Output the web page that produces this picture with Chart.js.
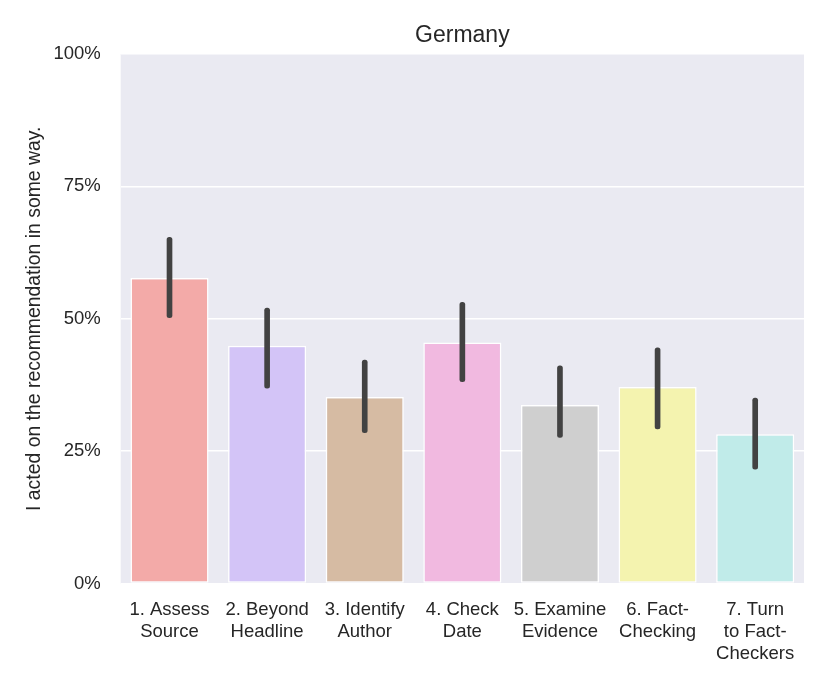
<!DOCTYPE html>
<html>
<head>
<meta charset="utf-8">
<script src="https://cdn.jsdelivr.net/npm/chart.js@4"></script>
<style>
  body { margin: 0; background: #fff; }
  #wrap { width: 830px; height: 692px; }
</style>
</head>
<body>
<div id="wrap"><canvas id="chart"></canvas></div>
<script>
// categories (multi-line tick labels)
const categories = [
    ["1. Assess", "Source"],
    ["2. Beyond", "Headline"],
    ["3. Identify", "Author"],
    ["4. Check", "Date"],
    ["5. Examine", "Evidence"],
    ["6. Fact-", "Checking"],
    ["7. Turn", "to Fact-", "Checkers"]
];
// share who acted on the recommendation (%)
const actedShare = [57.7, 44.9, 35.2, 45.5, 33.7, 37.1, 28.2];
// confidence interval bounds (%)
const ciLow = [50.2, 36.9, 28.5, 38.1, 27.6, 29.2, 21.6];
const ciHigh = [65.4, 52.0, 42.2, 53.1, 41.1, 44.5, 35.0];
const yTicks = [0, 25, 50, 75, 100];
const chartTitle = "Germany";

const barColors = ["#F3AAA8", "#D3C4F7", "#D6BBA3", "#F1B9E0", "#CFCFCF", "#F4F3AF", "#C0EBE9"];
const font = "'Liberation Sans', Arial, sans-serif";

// grey plot background + title centred over the plot area
const plotBg = {
    id: "plotBg",
    beforeDraw(chart) {
        const { ctx, chartArea: a } = chart;
        ctx.save();
        ctx.fillStyle = "#EAEAF2";
        ctx.fillRect(a.left, a.top, a.right - a.left, a.bottom - a.top);
        ctx.restore();
    },
    afterDraw(chart) {
        const { ctx, chartArea: a } = chart;
        ctx.save();
        ctx.fillStyle = "#262626";
        ctx.font = "23px " + font;
        ctx.textAlign = "center";
        ctx.textBaseline = "alphabetic";
        ctx.fillText(chartTitle, (a.left + a.right) / 2, 41.7);
        ctx.restore();
    }
};

const ctx = document.getElementById("chart").getContext("2d");
new Chart(ctx, {
    type: "bar",
    data: {
        labels: categories,
        datasets: [
            {
                label: "CI",
                data: ciLow.map((lo, i) => [lo, ciHigh[i]]),
                backgroundColor: "#424242",
                borderWidth: 0,
                borderRadius: 2.5,
                borderSkipped: false,
                barThickness: 5,
                grouped: false,
                order: 0
            },
            {
                label: "Acted",
                data: actedShare,
                backgroundColor: barColors,
                borderColor: "#ffffff",
                borderWidth: 1.5,
                borderSkipped: false,
                categoryPercentage: 0.8,
                barPercentage: 1.0,
                grouped: false,
                order: 1
            }
        ]
    },
    options: {
        responsive: true,
        maintainAspectRatio: false,
        animation: false,
        layout: { padding: { left: 0, right: 26, top: 54, bottom: 0 } },
        plugins: {
            legend: { display: false },
            tooltip: { enabled: false },
            title: { display: false }
        },
        scales: {
            x: {
                grid: { display: false, drawTicks: false },
                border: { display: false },
                ticks: {
                    color: "#262626",
                    font: { family: font, size: 18.5 },
                    padding: 15,
                    maxRotation: 0,
                    autoSkip: false
                },
                afterFit(scale) { scale.height = 108.5; }
            },
            y: {
                min: 0,
                max: 100,
                afterBuildTicks(scale) { scale.ticks = yTicks.map(v => ({ value: v })); },
                grid: { color: "#ffffff", lineWidth: 1.6, drawTicks: false },
                border: { display: false },
                ticks: {
                    color: "#262626",
                    font: { family: font, size: 18.5 },
                    padding: 20,
                    callback: v => v + "%"
                },
                title: {
                    display: true,
                    text: "I acted on the recommendation in some way.",
                    color: "#262626",
                    font: { family: font, size: 19.4 },
                    padding: { top: 23, bottom: 0 }
                },
                afterFit(scale) { scale.width = 120.7; }
            }
        }
    },
    plugins: [plotBg]
});
</script>
</body>
</html>
